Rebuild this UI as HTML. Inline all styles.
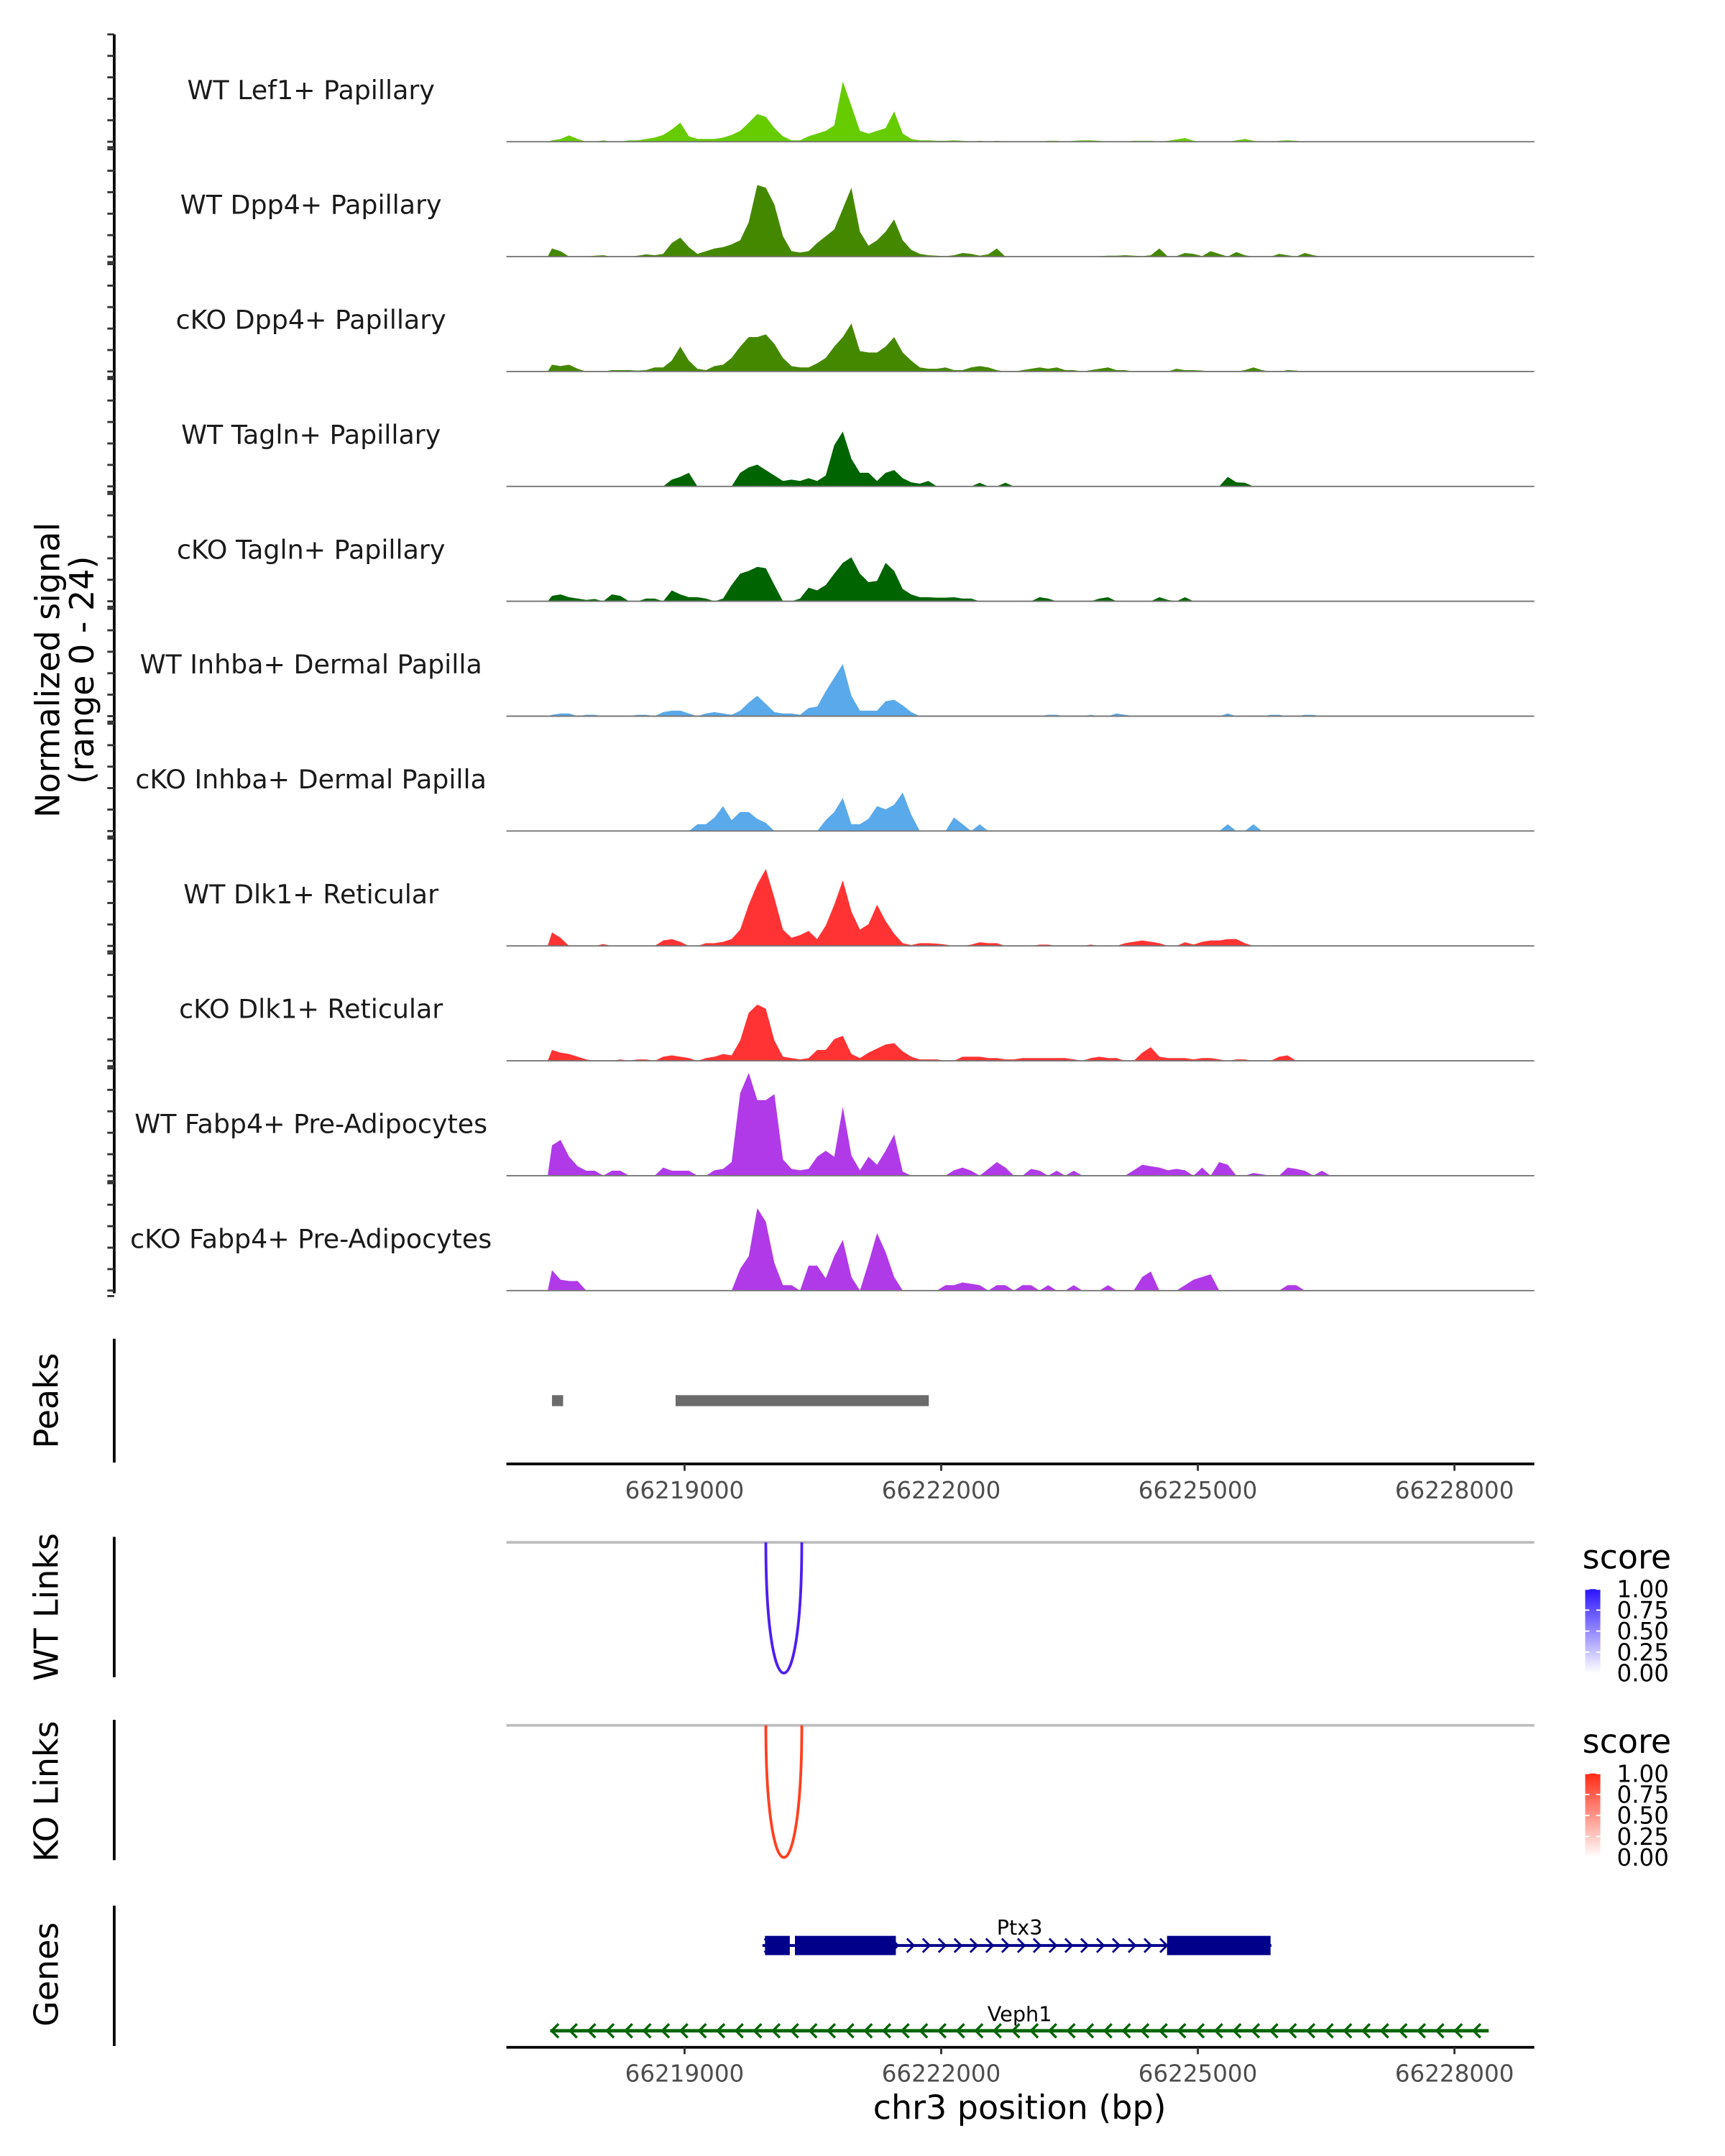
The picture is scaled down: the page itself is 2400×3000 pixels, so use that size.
<!DOCTYPE html>
<html><head><meta charset="utf-8"><style>
html,body{margin:0;padding:0;background:#fff;}
svg{display:block;font-family:"DejaVu Sans","Liberation Sans",sans-serif;}
</style></head><body>
<svg id="chart" xmlns="http://www.w3.org/2000/svg" width="2400" height="3000" viewBox="0 0 1253.6 1567" preserveAspectRatio="none">
<g id="tracks"></g>
<g id="leftaxis"></g>
<text transform="translate(43,487) rotate(-90)" text-anchor="middle" font-size="24" fill="#000">Normalized signal</text>
<text transform="translate(68,487) rotate(-90)" text-anchor="middle" font-size="24" fill="#000">(range 0 - 24)</text>
<g id="peaks"></g>
<g id="links"></g>
<g id="genes"></g>
<g id="axes"></g>
<text x="741" y="1540" text-anchor="middle" font-size="24" fill="#000">chr3 position (bp)</text>
<text transform="translate(42,1018) rotate(-90)" text-anchor="middle" font-size="24" fill="#000">Peaks</text>
<text transform="translate(42,1168) rotate(-90)" text-anchor="middle" font-size="24" fill="#000">WT Links</text>
<text transform="translate(42,1302) rotate(-90)" text-anchor="middle" font-size="24" fill="#000">KO Links</text>
<text transform="translate(42,1435) rotate(-90)" text-anchor="middle" font-size="24" fill="#000">Genes</text>
<defs>
<linearGradient id="gradWT" x1="0" y1="1" x2="0" y2="0"><stop offset="0" stop-color="#ffffff"/><stop offset="1" stop-color="#2a14ff"/></linearGradient>
<linearGradient id="gradKO" x1="0" y1="1" x2="0" y2="0"><stop offset="0" stop-color="#ffffff"/><stop offset="1" stop-color="#ff2a14"/></linearGradient>
</defs>
<g id="legends"></g>
</svg>
<script>
// ---- data ----
const binStart = 66217400;
const binSize = 100;
const trackNames = ["WT Lef1+ Papillary","WT Dpp4+ Papillary","cKO Dpp4+ Papillary","WT Tagln+ Papillary","cKO Tagln+ Papillary","WT Inhba+ Dermal Papilla","cKO Inhba+ Dermal Papilla","WT Dlk1+ Reticular","cKO Dlk1+ Reticular","WT Fabp4+ Pre-Adipocytes","cKO Fabp4+ Pre-Adipocytes"];
const trackColors = ["#66cc00","#448800","#448800","#006400","#006400","#5aa9ea","#5aa9ea","#ff3333","#ff3333","#b03ae8","#b03ae8"];
const sigLef1WT = [0.3,0.6,1.4,0.6,0,0,0.3,0,0,0.3, 0.3,0.6,0.9,1.5,2.7,4.2,1.2,0.6,0.6,0.6, 0.9,1.5,2.4,4.2,6.1,5.5,3,1.2,0.3,0.3, 1.2,1.8,2.4,3.6,13.3,7.9,2.4,1.8,2.4,3, 6.7,1.8,0.6,0.3,0.3,0.2,0.2,0.3,0.2,0, 0.2,0,0.2,0,0,0,0,0,0.2,0.2, 0,0.2,0.3,0.3,0.2,0,0,0,0.2,0.2, 0.2,0,0.2,0.5,0.8,0.2,0,0,0,0, 0.3,0.6,0.2,0,0,0.2,0.3,0.2,0,0, 0,0,0,0];
const sigDpp4WT = [1.8,1.2,0,0,0,0.2,0.3,0,0,0, 0.2,0.5,0.3,0.6,3,4.2,2.1,0.6,1.2,1.8, 2.1,2.7,3.6,7.6,15.8,15.2,11.5,4.5,1.2,0.9, 1.2,3,4.5,6,10.6,15.2,5.5,2.4,3.6,5.5, 8.2,3.6,1.5,0.6,0.3,0.2,0.1,0.3,0.8,0.6, 0.2,0.5,1.8,0,0,0,0,0,0,0, 0,0,0,0,0.1,0.2,0.2,0.3,0.2,0.1, 0.3,1.8,0,0.1,0.8,0.6,0.1,1.2,0.6,0, 1,0.3,0,0,0,0.6,0.3,0,0.8,0.3, 0,0,0,0];
const sigDpp4KO = [1.5,1.2,1.5,0.6,0,0,0,0.3,0.3,0.3, 0.2,0.3,0.9,0.9,2.4,5.5,2.4,0.6,0.3,1.2, 1.5,3,5.5,7.6,7.6,8.2,6.1,3,1.2,0.9, 0.9,1.8,3,5.5,7.6,10.6,4.5,4.2,4.2,5.5, 7.6,4.2,2.4,0.9,0.6,0.6,0.9,0.3,0.3,0.9, 1.2,0.9,0.3,0,0,0.3,0.6,0.9,0.6,0.9, 0.3,0.3,0,0.3,0.6,0.9,0.3,0.3,0,0, 0,0,0,0.6,0.3,0.3,0.2,0,0,0, 0,0.3,0.9,0.3,0,0,0.3,0.2,0,0, 0,0,0,0];
const sigTaglnWT = [0,0,0,0,0,0,0,0,0,0, 0,0,0,0,1.5,2.1,3,0,0,0, 0,0,3,4.2,4.8,3.6,2.4,1.2,1.5,1.2, 1.8,1.2,2.4,9.1,12.1,6.1,3,3,1.2,3, 3.6,1.8,0.9,0.6,1.2,0,0,0,0,0, 0.8,0,0,0.8,0,0,0,0,0,0, 0,0,0,0,0,0,0,0,0,0, 0,0,0,0,0,0,0,0,0,2.1, 0.9,0.8,0,0,0,0,0,0,0,0, 0,0,0,0];
const sigTaglnKO = [1.2,1.5,0.9,0.6,0.3,0.5,0,1.5,1.2,0, 0,0.6,0.6,0,2.4,1.5,0.9,0.9,0.6,0, 0.6,3.6,6.1,6.7,7.6,7.3,3.6,0,0,0.6, 3,2.4,3.6,6.1,8.5,9.7,6.1,4.2,4.5,8.5, 6.7,2.7,1.5,0.9,0.9,0.8,0.8,0.9,0.6,0.6, 0,0,0,0,0,0,0,0.9,0.6,0, 0,0,0,0,0.6,0.9,0,0,0,0, 0,0.9,0.3,0,0.9,0,0,0,0,0, 0,0,0,0,0,0,0,0,0,0, 0,0,0,0];
const sigInhbaWT = [0.3,0.6,0.6,0,0.3,0.3,0,0,0,0, 0.3,0.3,0,0.9,1.2,1.2,0.6,0,0.6,0.9, 0.6,0.3,1.2,3,4.5,2.7,0.9,0.6,0.6,0.3, 1.8,2.1,5.5,8.5,11.5,4.5,1.2,1.2,1.2,3.3, 3.6,2.4,0.9,0,0,0,0,0,0,0, 0,0,0,0,0,0,0,0,0.3,0.3, 0,0,0,0.3,0,0,0.6,0.3,0,0, 0,0,0,0,0,0,0,0,0,0.6, 0,0,0,0,0.3,0.3,0,0,0.3,0.3, 0,0,0,0];
const sigInhbaKO = [0,0,0,0,0,0,0,0,0,0, 0,0,0,0,0,0,0,1.5,1.5,3, 5.5,2.4,4.2,4.2,2.7,1.8,0,0,0,0, 0,0,2.4,4.2,7.3,1.5,1.5,2.7,5.5,4.8, 5.8,8.5,3.6,0,0,0,0,3,1.5,0, 1.5,0,0,0,0,0,0,0,0,0, 0,0,0,0,0,0,0,0,0,0, 0,0,0,0,0,0,0,0,0,1.5, 0,0,1.5,0,0,0,0,0,0,0, 0,0,0,0];
const sigDlk1WT = [3,1.8,0,0,0,0,0.4,0,0,0, 0,0,0,1.2,1.5,0.9,0,0,0.6,0.6, 0.9,1.5,3.6,9.1,13.6,17,10.6,3.6,1.8,2.4, 3.3,1.5,4.5,9.1,14.5,7.6,3.6,4.8,9.1,5.5, 2.7,0.6,0.2,0.6,0.6,0.5,0.3,0,0,0.3, 0.8,0.6,0.6,0,0,0,0,0.3,0.3,0, 0,0,0,0.3,0,0,0,0.6,0.9,1.2, 0.9,0.6,0,0,0.8,0.3,0.9,1.2,1.2,1.5, 1.5,0.6,0,0,0,0,0,0,0,0, 0,0,0,0];
const sigDlk1KO = [2.4,1.8,1.5,0.9,0.3,0,0,0,0.3,0, 0.3,0.3,0,0.9,1.2,0.9,0.6,0,0.6,0.9, 1.5,1.2,4.5,10.6,12.4,11.5,4.5,0.9,0.6,0.3, 0.6,2.4,2.4,4.8,5.5,1.5,0.6,1.8,2.7,3.6, 3.9,2.1,0.9,0.3,0.3,0.3,0,0,0.9,0.9, 0.9,0.6,0.6,0.3,0.3,0.6,0.6,0.6,0.6,0.6, 0.6,0.3,0,0.6,0.9,0.6,0.6,0,0,1.8, 3,0.9,0.6,0.6,0.6,0.3,0.6,0.6,0.3,0, 0.3,0.3,0,0,0,0.9,1.2,0,0,0, 0,0,0,0];
const sigFabp4WT = [6.7,7.9,4.2,2.1,1.1,1.1,0,1.1,1.1,0, 0,0,0,1.8,1.1,1.1,1.1,0,0,1.2, 1.5,3,18.2,22.7,16.7,16.7,18,3.6,1.5,1.2, 1.5,4.2,5.5,4.2,15.2,4.5,1.2,4.2,2.4,5.5, 9.1,0.9,0,0,0,0,0,1.2,1.8,1.1, 0,1.5,3,1.8,0,0,1.5,1.1,0,1.1, 0,1.1,0,0,0,0,0,0,1.2,2.4, 2.1,1.8,1.2,1.5,1.2,0,1.8,0,3,2.4, 0,0,0.6,0.3,0,0,1.8,1.5,1.1,0, 1.1,0,0,0];
const sigFabp4KO = [4.5,2.4,2.1,2.1,0,0,0,0,0,0, 0,0,0,0,0,0,0,0,0,0, 0,0,4.8,7.6,18.2,15.2,6.1,1.2,1.2,0, 5.5,5.5,2.7,7.6,11.2,3,0,6.1,12.7,8.5, 3,0,0,0,0,0,1.2,1.2,1.8,1.5, 1.2,0,1.2,1.2,0,1.2,1.2,0,1.2,0, 0,1.2,0,0,0,1.2,0,0,0,3, 4.2,0,0,0,1.2,2.4,3,3.6,0,0, 0,0,0,0,0,0,1.2,1.2,0,0, 0,0,0,0];
const signals = [sigLef1WT,sigDpp4WT,sigDpp4KO,sigTaglnWT,sigTaglnKO,sigInhbaWT,sigInhbaKO,sigDlk1WT,sigDlk1KO,sigFabp4WT,sigFabp4KO];
const xTicks = [66219000,66222000,66225000,66228000];
const xTickLabels = ["66219000","66222000","66225000","66228000"];
const peakStarts = [66217450,66218895];
const peakEnds = [66217580,66221855];
const linkStarts = [66219950];
const linkEnds = [66220370];
const wtLinkScores = [1.0];
const koLinkScores = [1.0];
const legendTicks = [1.00,0.75,0.50,0.25,0.00];
const ptx3Exons = [[66219940,66220230],[66220290,66221470],[66224640,66225850]];
const ptx3Range = [66219910,66225860];
const veph1Range = [66217430,66228400];
const ySignalMax = 24;

// ---- scales ----
const NS="http://www.w3.org/2000/svg";
const X0=368, X1=1115;
function xs(bp){return 497.5+(bp-66219000)*186.5/3000;}
function ys(v){return v*79/ySignalMax;}
function mk(tag,attrs,parent){const e=document.createElementNS(NS,tag);for(const k in attrs)e.setAttribute(k,attrs[k]);parent.appendChild(e);return e;}

// ---- tracks ----
const gT=document.getElementById('tracks');
const gA=document.getElementById('leftaxis');
mk('line',{x1:83,y1:25,x2:83,y2:940,stroke:'#000','stroke-width':2},gA);
for(let k=0;k<signals.length;k++){
  const base=103+k*83.5;
  const g=mk('g',{},gT);
  
  
  const lab=mk('text',{x:226,y:base-31,'text-anchor':'middle','font-size':19,fill:'#1a1a1a'},g);
  lab.textContent=trackNames[k];
  
  
  const vals=signals[k];
  let d='M'+xs(binStart).toFixed(2)+','+base;
  for(let i=0;i<vals.length;i++){
    const xc=xs(binStart+(i+0.5)*binSize);
    const y=(base-ys(vals[i])).toFixed(2);
    d+=' L'+xc.toFixed(2)+','+y;
  }
  d+=' L'+xs(binStart+vals.length*binSize).toFixed(2)+','+base+' Z';
  const area=mk('path',{d:d,fill:trackColors[k],stroke:'none'},g);
  
  
  const bl=mk('line',{x1:X0,y1:base,x2:X1,y2:base,stroke:'#777','stroke-width':1},g);
  
  
  for(let j=0;j<6;j++){
    const ty=base-78+j*15.6;
    const t=mk('line',{x1:78,y1:ty,x2:83,y2:ty,stroke:'#333','stroke-width':1.5},gA);
    
    
  }
  const t2=mk('line',{x1:78,y1:base+4,x2:83,y2:base+4,stroke:'#333','stroke-width':1.5},gA);
  
  
}

// ---- peaks ----
const gP=document.getElementById('peaks');
mk('line',{x1:83,y1:973,x2:83,y2:1063,stroke:'#000','stroke-width':2},gP);
for(let i=0;i<peakStarts.length;i++){
  const r=mk('rect',{x:xs(peakStarts[i]),y:1014,width:xs(peakEnds[i])-xs(peakStarts[i]),height:8,fill:'#6b6b6b'},gP);
  
  
}

// ---- axes ----
const gX=document.getElementById('axes');
[1064,1488].forEach(function(ay){
  mk('line',{x1:X0,y1:ay,x2:X1,y2:ay,stroke:'#000','stroke-width':2},gX);
  for(let i=0;i<xTicks.length;i++){
    const x=xs(xTicks[i]);
    mk('line',{x1:x,y1:ay,x2:x,y2:ay+5,stroke:'#333','stroke-width':1.5},gX);
    const t=mk('text',{x:x,y:ay+25,'text-anchor':'middle','font-size':17,fill:'#4d4d4d'},gX);
    t.textContent=xTickLabels[i];
    
    
  }
});

// ---- links ----
const gL=document.getElementById('links');
function drawLinks(top,bottom,color,scores,name){
  mk('line',{x1:83,y1:top-4,x2:83,y2:top+98,stroke:'#000','stroke-width':2},gL);
  mk('line',{x1:X0,y1:top,x2:X1,y2:top,stroke:'#bdbdbd','stroke-width':2},gL);
  for(let i=0;i<linkStarts.length;i++){
    const a=xs(linkStarts[i]), b=xs(linkEnds[i]);
    const c=top+(bottom-top)*4/3*scores[i];
    const p=mk('path',{d:'M'+a+','+top+' C'+a+','+c+' '+b+','+c+' '+b+','+top,fill:'none',stroke:color,'stroke-width':2},gL);
    
    
  }
}
drawLinks(1121,1216,'#4d1ff0',wtLinkScores,'wt-link-arc');
drawLinks(1254,1350,'#ff4020',koLinkScores,'ko-link-arc');

// ---- legends ----
const gG=document.getElementById('legends');
function legend(top,grad,name){
  const g=mk('g',{},gG);
  
  
  const t=mk('text',{x:1150,y:top,'font-size':24,fill:'#000'},g);
  t.textContent='score';
  mk('rect',{x:1152,y:top+15,width:11,height:61,fill:'url(#'+grad+')'},g);
  for(let i=0;i<legendTicks.length;i++){
    const y=top+15+(1-legendTicks[i])*61;
    mk('line',{x1:1152,y1:y,x2:1155,y2:y,stroke:'#fff','stroke-width':1},g);
    mk('line',{x1:1160,y1:y,x2:1163,y2:y,stroke:'#fff','stroke-width':1},g);
    const l=mk('text',{x:1175,y:y+6,'font-size':17,fill:'#000'},g);
    l.textContent=legendTicks[i].toFixed(2);
  }
}
legend(1140,'gradWT','wt-score-legend');
legend(1274,'gradKO','ko-score-legend');

// ---- genes ----
const gN=document.getElementById('genes');
mk('line',{x1:83,y1:1385,x2:83,y2:1487,stroke:'#000','stroke-width':2},gN);
const pg=mk('g',{},gN);


mk('line',{x1:xs(ptx3Range[0]),y1:1414,x2:xs(ptx3Range[1]),y2:1414,stroke:'#00008b','stroke-width':2},pg);
for(let x=xs(ptx3Range[0])+4;x<xs(ptx3Range[1]);x+=11.5){
  mk('path',{d:'M'+(x-2.5)+',1409 L'+(x+2.5)+',1414 L'+(x-2.5)+',1419',fill:'none',stroke:'#00008b','stroke-width':1.5},pg);
}
ptx3Exons.forEach(function(e){
  const r=mk('rect',{x:xs(e[0]),y:1407,width:xs(e[1])-xs(e[0]),height:14,fill:'#00008b'},pg);
  
  
});
const pl=mk('text',{x:741,y:1406,'text-anchor':'middle','font-size':15,fill:'#000'},pg);
pl.textContent='Ptx3';
const vg=mk('g',{},gN);


mk('line',{x1:xs(veph1Range[0]),y1:1476,x2:xs(veph1Range[1]),y2:1476,stroke:'#006400','stroke-width':2.5},vg);
for(let x=xs(veph1Range[0])+3;x<xs(veph1Range[1]);x+=13.4){
  mk('path',{d:'M'+(x+3)+',1471 L'+(x-2)+',1476 L'+(x+3)+',1481',fill:'none',stroke:'#006400','stroke-width':1.8},vg);
}
const vl=mk('text',{x:741,y:1469,'text-anchor':'middle','font-size':15,fill:'#000'},vg);
vl.textContent='Veph1';
</script>
</body></html>
